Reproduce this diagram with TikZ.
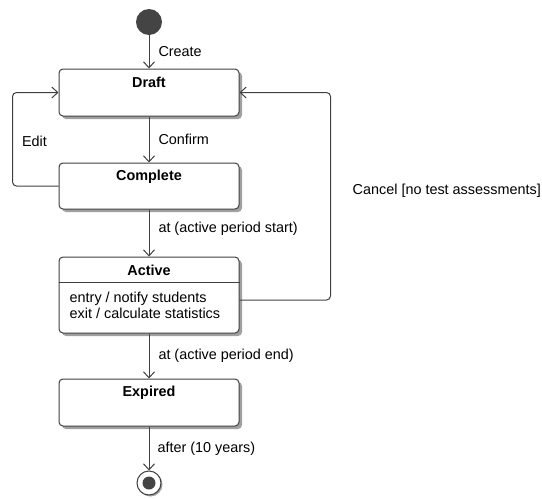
\documentclass[tikz,border=0pt]{standalone}
\usepackage{fontspec}
\setmainfont{Liberation Sans}
\usetikzlibrary{arrows.meta,calc,positioning,shadows}
\newcommand{\diagfont}{\fontsize{14.4}{16}\selectfont}
\definecolor{linegray}{RGB}{64,64,64}
\definecolor{dotgray}{RGB}{68,68,68}
\definecolor{shadowgray}{RGB}{160,160,160}
\tikzset{
  wire/.style={draw=linegray,line width=1pt},
  flow/.style={wire,-{Straight Barb[length=6pt,width=11pt]}},
  loopback/.style={flow,rounded corners=4pt},
  state/.style={wire,fill=white,rounded corners=4pt,minimum width=180pt,
                minimum height=47pt,inner sep=0pt,
                drop shadow={shadow xshift=3pt,shadow yshift=-3pt,fill=shadowgray,opacity=1}},
  title/.style={font=\diagfont\bfseries,inner sep=0pt},
  lab/.style={inner sep=0pt},
  start/.style={circle,fill=dotgray,minimum size=26pt,inner sep=0pt},
  finish/.style={circle,wire,fill=white,minimum size=24pt,inner sep=0pt,
                 drop shadow={shadow xshift=1.5pt,shadow yshift=-1.5pt,fill=shadowgray,opacity=1},
                 path picture={\fill[dotgray] (path picture bounding box.center) circle (6.5pt);}},
}

\begin{document}
\begin{tikzpicture}[x=1pt,y=-1pt,font=\diagfont]
  \path[use as bounding box] (0,0) rectangle (542,499);

  % states
  \node[start] (init) at (149,22) {};
  \node[state] (draft) at (149,92.5) {};
  \node[title] at ($(draft.north)+(0,14)$) {Draft};
  \node[state,minimum height=46pt] (complete) at (149,186) {};
  \node[title] at ($(complete.north)+(0,14)$) {Complete};
  \node[state,minimum height=76pt] (active) at (149,295) {};
  \node[title] at ($(active.north)+(0,14)$) {Active};
  \draw[wire] ($(active.north west)+(0,26)$) -- ($(active.north east)+(0,26)$);
  \node[lab,anchor=west,align=left] (activity) at ($(active.west)+(11,10)$)
    {entry / notify students\\exit / calculate statistics};
  \node[state] (expired) at (149,402.5) {};
  \node[title] at ($(expired.north)+(0,14)$) {Expired};
  \node[finish] (final) at (149,483) {};

  % transitions
  \draw[flow] (init) -- node[lab,right=9pt] {Create} (draft);
  \draw[flow] (draft) -- node[lab,right=9pt] {Confirm} (complete);
  \draw[flow] (complete) -- node[lab,right=9pt,pos=0.4] {at (active period start)} (active);
  \draw[flow] (active) -- node[lab,right=9pt] {at (active period end)} (expired);
  \draw[flow] (expired) -- node[lab,right=8pt] {after (10 years)} (final);

  \draw[loopback] (complete.west) -- ++(-46,0) coordinate (editcorner) |- (draft.west);
  \node[lab] at (34.5,141) {Edit};
  \draw[loopback] ($(active.east)+(0,5)$) -- ++(91,0) coordinate (cancelcorner) |- (draft.east);
  \node[lab,anchor=west] at ($(cancelcorner)+(22,-109)$) {Cancel [no test assessments]};
\end{tikzpicture}
\end{document}
